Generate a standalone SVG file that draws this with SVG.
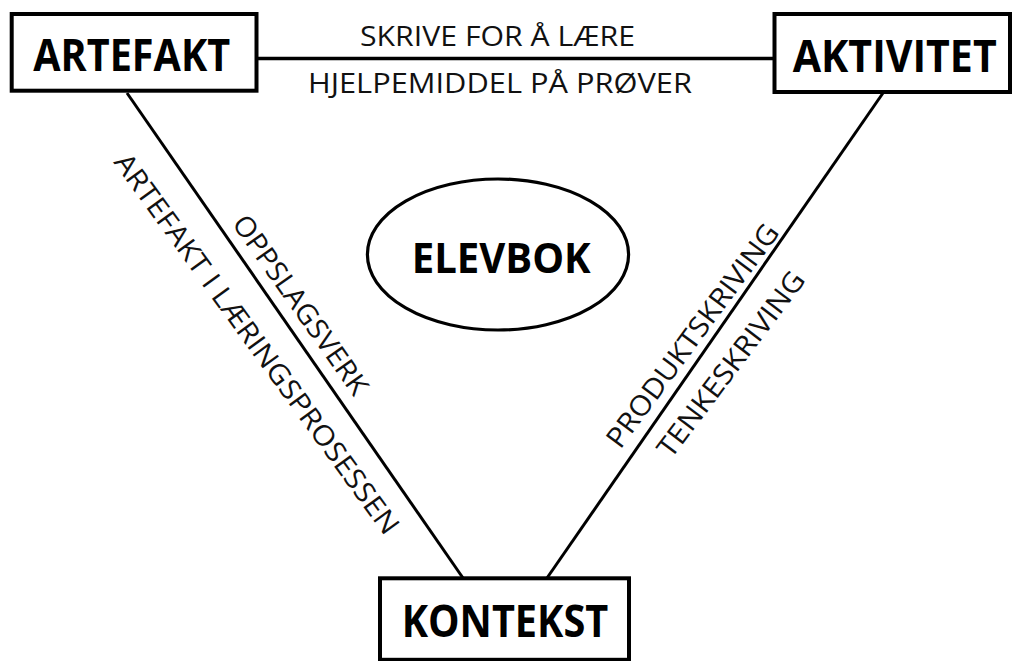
<svg xmlns="http://www.w3.org/2000/svg" width="1012" height="661" viewBox="0 0 1012 661">
<style>
.box{fill:#fff;stroke:#000;stroke-width:4}
.ell{fill:#fff;stroke:#000;stroke-width:3.2}
.con{stroke:#000;stroke-width:3;fill:none}
.nl{font-family:"Open Sans","Noto Sans",sans-serif;font-weight:700;fill:#000;text-anchor:middle}
.el{font-family:"Open Sans","Noto Sans",sans-serif;font-weight:400;font-size:28px;fill:#111;text-anchor:middle}
</style>
<rect width="1012" height="661" fill="#fff"/>
<g id="connectors">
<line class="con" x1="256" y1="58.5" x2="775" y2="58.5" style="stroke-width:3.5"/>
<line class="con" x1="127" y1="93" x2="463" y2="578"/>
<line class="con" x1="883" y1="93" x2="547" y2="578"/>
</g>
<g id="edge-labels">
<text class="el" x="497.5" y="46" textLength="275" lengthAdjust="spacingAndGlyphs">SKRIVE FOR Å LÆRE</text>
<text class="el" x="500" y="93" textLength="384" lengthAdjust="spacingAndGlyphs">HJELPEMIDDEL PÅ PRØVER</text>
<text class="el" transform="translate(292.6,310.5) rotate(54.8)" textLength="213" lengthAdjust="spacingAndGlyphs">OPPSLAGSVERK</text>
<text class="el" transform="translate(249.1,349.5) rotate(54)" textLength="463" lengthAdjust="spacingAndGlyphs">ARTEFAKT I LÆRINGSPROSESSEN</text>
<text class="el" transform="translate(700.3,341.4) rotate(-53.6)" textLength="270" lengthAdjust="spacingAndGlyphs">PRODUKTSKRIVING</text>
<text class="el" transform="translate(738.8,370) rotate(-53)" textLength="225" lengthAdjust="spacingAndGlyphs">TENKESKRIVING</text>
</g>
<g id="artefakt">
<rect class="box" x="11.7" y="14" width="244.8" height="76.7"/>
<text class="nl" x="131.7" y="70.5" font-size="44" textLength="197" lengthAdjust="spacingAndGlyphs">ARTEFAKT</text>
</g>
<g id="aktivitet">
<rect class="box" x="774.5" y="14" width="235.5" height="78"/>
<text class="nl" x="894.7" y="71.5" font-size="44" textLength="204" lengthAdjust="spacingAndGlyphs">AKTIVITET</text>
</g>
<g id="kontekst">
<rect class="box" x="380" y="578.3" width="249" height="81.5"/>
<text class="nl" x="505" y="636.5" font-size="45" textLength="206.6" lengthAdjust="spacingAndGlyphs">KONTEKST</text>
</g>
<g id="elevbok">
<ellipse class="ell" cx="498" cy="254.5" rx="130.6" ry="75.5"/>
<text class="nl" x="501.2" y="272.5" font-size="41" textLength="179" lengthAdjust="spacingAndGlyphs">ELEVBOK</text>
</g>
</svg>
